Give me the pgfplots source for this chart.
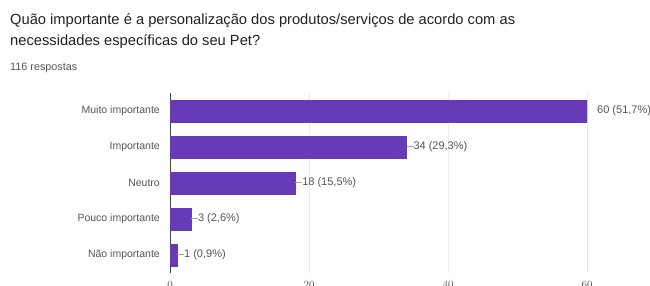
\documentclass[border=0pt]{standalone}
\usepackage{pgfplots}
\pgfplotsset{compat=1.18}
\usepackage{fontspec}
\setmainfont{Liberation Sans}
\definecolor{barpurple}{HTML}{673AB7}
\definecolor{labgray}{HTML}{555555}
\definecolor{titlegray}{HTML}{202124}
\definecolor{gridgray}{HTML}{EBEBEB}
\definecolor{axisgray}{HTML}{444444}
\begin{document}
\begin{tikzpicture}[x=1pt,y=1pt]
\clip (0,0) rectangle (650,286);
\fill[white] (0,0) rectangle (650,286);
\node[anchor=base west, inner sep=0pt, font=\fontsize{14.7}{16}\selectfont, text=titlegray] at (10,261) {Quão importante é a personalização dos produtos/serviços de acordo com as};
\node[anchor=base west, inner sep=0pt, font=\fontsize{14.7}{16}\selectfont, text=titlegray] at (10,240) {necessidades específicas do seu Pet?};
\node[anchor=base west, inner sep=0pt, font=\fontsize{10.8}{12}\selectfont, text=labgray] at (10,215) {116 respostas};
\begin{axis}[
  at={(170pt,13pt)}, anchor=south west,
  scale only axis, width=417pt, height=180pt,
  xmin=0, xmax=60, ymin=-0.5, ymax=4.5,
  xbar, bar width=0.6,
  axis line style={draw=none},
  major tick length=0pt,
  xtick={20,40,60},
  extra x ticks={0},
  extra x tick style={grid style={draw=axisgray, line width=0.7pt}},
  xmajorgrids, grid style={draw=gridgray, line width=0.6pt},
  xticklabel style={anchor=north, inner sep=0pt, yshift=-8pt, text=labgray, font=\fontsize{10.5}{12}\selectfont},
  ytick={0,1,2,3,4},
  yticklabels={Não importante, Pouco importante, Neutro, Importante, Muito importante},
  yticklabel style={anchor=east, inner sep=0pt, xshift=-10pt, text=labgray, font=\fontsize{10.5}{12}\selectfont},
  point meta=explicit symbolic,
  nodes near coords={\pgfplotspointmeta},
  nodes near coords style={anchor=west, inner sep=0pt, text=labgray, font=\fontsize{11}{12}\selectfont},
]
\addplot[fill=barpurple, draw=barpurple] coordinates {
  (1,0) [{\textcolor{gray!70}{\rule[0.55ex]{7pt}{0.6pt}}1 (0,9\%)}]
  (3,1) [{\textcolor{gray!70}{\rule[0.55ex]{7pt}{0.6pt}}3 (2,6\%)}]
  (18,2) [{\textcolor{gray!70}{\rule[0.55ex]{7pt}{0.6pt}}18 (15,5\%)}]
  (34,3) [{\textcolor{gray!70}{\rule[0.55ex]{7pt}{0.6pt}}34 (29,3\%)}]
  (60,4) [{\hspace*{10pt}60 (51,7\%)}]
};
\end{axis}
\end{tikzpicture}
\end{document}
